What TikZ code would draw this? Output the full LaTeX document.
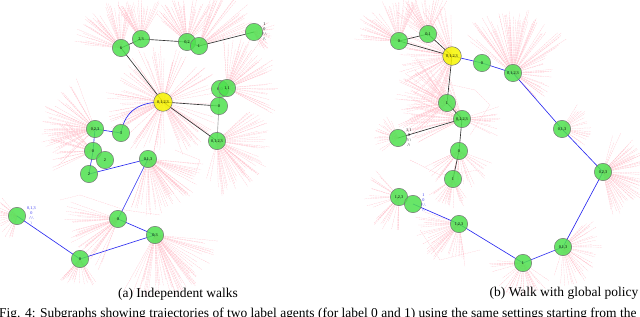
\documentclass[tikz,border=0pt]{standalone}
\usepackage{fontspec}
\setmainfont{Liberation Serif}
\usetikzlibrary{backgrounds}
\definecolor{agentgreen}{HTML}{4EE04E}
\definecolor{leadyellow}{HTML}{F6F600}
\definecolor{raypink}{HTML}{FFC2CC}
\definecolor{walkblue}{HTML}{2A2AF0}

% fan of sensing rays: centre node, first angle, last angle, reach, rays
\newcommand{\rayfan}[5]{%
  \foreach \k in {1,...,#5}{%
    \pgfmathsetmacro{\rang}{#2+(#3-#2)*rnd}%
    \pgfmathsetmacro{\rlen}{#4*(0.7+0.3*rnd)}%
    \draw[ray] (#1.center) -- ++(\rang:\rlen);
  }}

\begin{document}
\begin{tikzpicture}[x=0.03cm,y=-0.03cm,
    agent/.style = {circle,draw=black!55,fill=agentgreen,fill opacity=0.85,text opacity=1,
                    inner sep=0pt,minimum size=0.52cm,font=\fontsize{3.6}{4}\selectfont},
    lead/.style  = {agent,fill=leadyellow,minimum size=0.56cm},
    ray/.style   = {raypink,line width=0.2pt,dash pattern=on 1.5pt off 0.6pt},
    walkA/.style = {black!80,line width=0.55pt},
    walkB/.style = {walkblue,line width=0.55pt},
    tag/.style   = {align=center,inner sep=0pt,font=\fontsize{3.6}{4.3}\selectfont},
    capt/.style  = {inner sep=0pt,font=\fontsize{11.5}{13}\selectfont},
  ]
  \useasboundingbox (0,0) rectangle (640,317);
  \clip (0,0) rectangle (640,317);

  % (a) independent walks
  \node[agent] (l6)    at (121,48)  {6};
  \node[agent] (l23)   at (141,39)  {2,3};
  \node[agent] (l02)   at (187,42)  {0,2};
  \node[agent] (l1)    at (199,46)  {1};
  \node[agent] (lu1)   at (254,32)  {};
  \node[lead]  (lY)    at (163,102) {0,1,2,3};
  \node[agent] (la)    at (220,89)  {0,0};
  \node[agent] (lb)    at (227,88)  {1,1};
  \node[agent] (l0a)   at (219,106) {0};
  \node[agent] (l0123) at (217,141) {0,1,2,3};
  \node[agent] (l023)  at (95,129)  {0,2,3};
  \node[agent] (l5)    at (121,133) {3};
  \node[agent] (l8)    at (93,151)  {0};
  \node[agent] (l2a)   at (105,160) {2};
  \node[agent] (l2b)   at (89,174)  {2};
  \node[agent] (l013)  at (148,159) {0,1,3};
  \node[agent] (l0b)   at (118,219) {0};
  \node[agent] (l03)   at (155,235) {0,3};
  \node[agent] (l0c)   at (80,259)  {0};
  \node[agent] (lu2)   at (17,216)  {};
  \node[tag,anchor=west] (lu1tag) at (262,32)
       {1\\0\\/\textbackslash\,\textbackslash\\/\textbackslash};
  \node[tag,anchor=west,text=walkblue] (lu2tag) at (27,216)
       {0,1,3\\0\\/\textbackslash\,\textbackslash\\\textbackslash};

  % (b) walk with global policy
  \node[agent] (r0a)   at (399,41)  {0};
  \node[agent] (r01)   at (428,34)  {0,1};
  \node[lead]  (rY)    at (452,56)  {0,1,2,3};
  \node[agent] (r0b)   at (482,63)  {0};
  \node[agent] (rA)    at (513,73)  {0,1,2,3};
  \node[agent] (r1a)   at (447,103) {1};
  \node[agent] (rB)    at (462,119) {0,1,2,3};
  \node[agent] (ru1)   at (398,138) {};
  \node[agent] (rC)    at (562,129) {0,1,3};
  \node[agent] (r0c)   at (459,151) {0};
  \node[agent] (r1b)   at (453,179) {1};
  \node[agent] (r023)  at (603,172) {0,2,3};
  \node[agent] (r123a) at (399,197) {1,2,3};
  \node[agent] (ru2)   at (413,204) {};
  \node[agent] (r123b) at (459,224) {1,2,3};
  \node[agent] (r1c)   at (523,263) {1};
  \node[agent] (r013)  at (563,247) {0,1,3};
  \node[tag,anchor=west] (ru1tag) at (406,138)
       {1,1\\0\\/\textbackslash\,\textbackslash\\/\textbackslash};
  \node[tag,anchor=west,text=walkblue] (ru2tag) at (421,203)
       {1\\0\\/\textbackslash\,\textbackslash\\/\textbackslash};

  \node[capt] (capa) at (178,294) {(a) Independent walks};
  \node[capt] (capb) at (564,293) {(b) Walk with global policy};
  \node[capt,anchor=base west] (figcap) at (-1,317.5)
       {Fig. 4: Subgraphs showing trajectories of two label agents (for label 0 and 1) using the same settings starting from the};

  \begin{pgfonlayer}{background}
    \pgfmathsetseed{7}
    % sensing rays, left
    \rayfan{l6}{185}{290}{48}{40}
    \rayfan{l23}{230}{310}{42}{30}
    \rayfan{l02}{220}{320}{45}{40}
    \rayfan{l1}{280}{345}{65}{25}
    \rayfan{lu1}{-40}{70}{22}{18}
    \rayfan{lY}{0}{360}{58}{110}
    \rayfan{lb}{-95}{30}{55}{45}
    \rayfan{l0123}{-50}{110}{55}{55}
    \rayfan{l023}{135}{250}{55}{45}
    \rayfan{l8}{150}{230}{45}{22}
    \rayfan{l013}{0}{110}{58}{50}
    \rayfan{l0b}{110}{200}{55}{35}
    \rayfan{l03}{0}{120}{65}{55}
    \rayfan{l0c}{50}{140}{30}{22}
    \rayfan{lu2}{100}{250}{25}{22}
    \draw[ray] (60,200) -- (80,195) -- (125,210) -- (160,215);
    \draw[ray] (175,150) -- (200,160) -- (195,175);
    % sensing rays, right
    \rayfan{r0a}{180}{300}{45}{40}
    \rayfan{r01}{200}{300}{40}{30}
    \rayfan{rY}{100}{270}{55}{60}
    \rayfan{rA}{215}{330}{65}{60}
    \rayfan{rA}{-30}{60}{40}{22}
    \rayfan{r1a}{130}{240}{55}{40}
    \rayfan{rB}{150}{260}{60}{40}
    \rayfan{rB}{-20}{30}{40}{14}
    \rayfan{ru1}{140}{250}{25}{18}
    \rayfan{r0c}{20}{160}{40}{30}
    \rayfan{r1b}{40}{150}{30}{22}
    \rayfan{rC}{-60}{40}{30}{18}
    \rayfan{r023}{-80}{90}{45}{55}
    \rayfan{r123a}{90}{230}{38}{26}
    \rayfan{r123b}{80}{200}{45}{35}
    \rayfan{r1c}{30}{190}{35}{30}
    \rayfan{r013}{-70}{110}{40}{35}
    \draw[ray] (430,80) -- (475,90) -- (490,105) -- (470,135);
    \draw[ray] (410,160) -- (440,175) -- (480,170);
    \draw[ray] (420,230) -- (440,260) -- (480,250);

    % walks of the two label agents
    \draw[walkA] (l6.center) -- (l23.center) -- (l02.center) -- (l1.center) -- (lu1.center);
    \draw[walkA] (l6.center) -- (lY.center) -- (l0a.center);
    \draw[walkA] (lY.center) -- (l0123.center);
    \draw[walkA,black!35] (la.center) -- (l0a.center) -- (l0123.center);
    \draw[walkB] (lY.center) .. controls (140,102) and (125,110) .. (l5.center)
          -- (l023.center) -- (l8.center) -- (l2b.center) -- (l013.center)
          -- (l0b.center) -- (l03.center) -- (l0c.center) -- (lu2.center);

    \draw[walkA] (r0a.center) -- (r01.center) -- (rY.center) -- (r0a.center);
    \draw[walkA] (rY.center) -- (r1a.center) -- (rB.center) -- (ru1.center);
    \draw[walkA] (rB.center) -- (r0c.center) -- (r1b.center);
    \draw[walkB] (rY.center) -- (r0b.center) -- (rA.center) -- (rC.center) -- (r023.center)
          -- (r013.center) -- (r1c.center) -- (r123b.center) -- (ru2.center);
  \end{pgfonlayer}
\end{tikzpicture}
\end{document}
